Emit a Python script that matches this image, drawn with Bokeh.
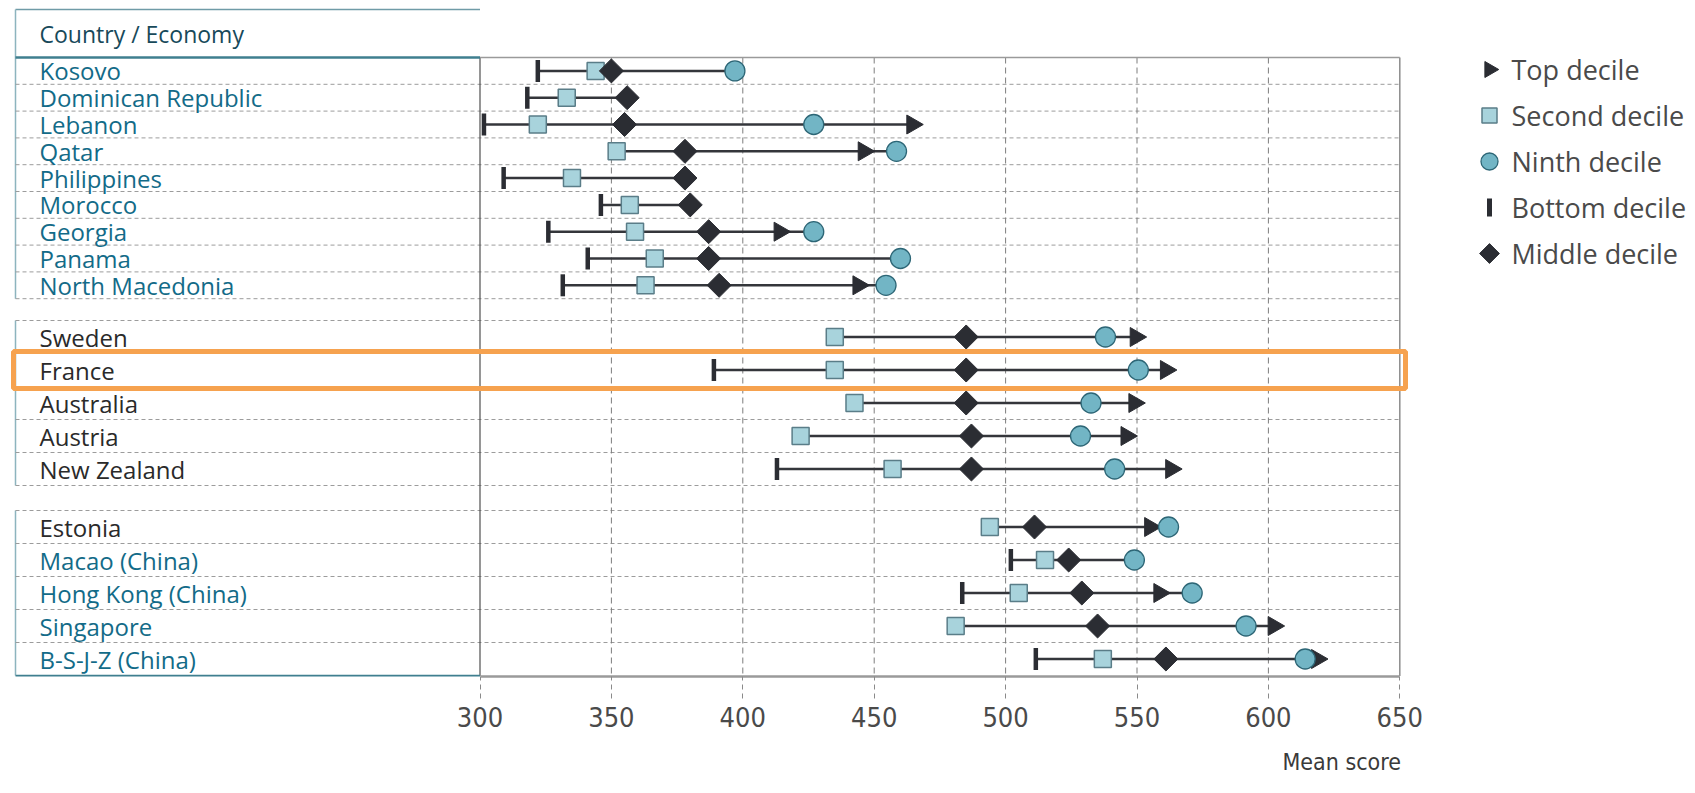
import math
from bokeh.plotting import figure
from bokeh.models import ColumnDataSource, Range1d, FixedTicker, Title
from bokeh.core.properties import value
from bokeh.embed import file_html
from bokeh.resources import INLINE

nan = float("nan")

# ---------------- data ----------------
countries = ["Kosovo", "Dominican Republic", "Lebanon", "Qatar", "Philippines", "Morocco",
             "Georgia", "Panama", "North Macedonia",
             "Sweden", "France", "Australia", "Austria", "New Zealand",
             "Estonia", "Macao (China)", "Hong Kong (China)", "Singapore", "B-S-J-Z (China)"]
group = [0, 0, 0, 0, 0, 0, 0, 0, 0,
         1, 1, 1, 1, 1,
         2, 2, 2, 2, 2]
bottom_decile = [322, 318, 301.5, nan, 309, 346, 326, 341, 331.5,
                 nan, 389, nan, nan, 413,
                 nan, 502, 483.5, nan, 511.5]
second_decile = [344, 333, 322, 352, 335, 357, 359, 366.5, 363,
                 435, 435, 442.5, 422, 457,
                 494, 515, 505, 481, 537]
middle_decile = [350, 356, 355, 378, 378, 380, 387, 387, 391,
                 485, 485, 485, 487, 487,
                 511, 524, 529, 535, 561]
ninth_decile = [397, nan, 427, 458.5, nan, nan, 427, 460, 454.5,
                538, 550.5, 532.5, 528.5, 541.5,
                562, 549, 571, 591.5, 614]
top_decile = [nan, nan, 464.5, 446, nan, nan, 414, nan, 444,
              549.5, 561, 549, 546, 563,
              555, nan, 558.5, 602, 618.5]
tick_values = [300, 350, 400, 450, 500, 550, 600, 650]
legend_labels = ["Top decile", "Second decile", "Ninth decile", "Bottom decile", "Middle decile"]
header_text = "Country / Economy"
x_title = "Mean score"
highlight_country = "France"
dark_label_countries = ["Sweden", "France", "Australia", "Austria", "New Zealand", "Estonia"]

# ---------------- layout helpers ----------------
W, H = 1695, 793
FRAME_H = 676
PX_PER_UNIT = 131.4 / 50.0
X_AT_300 = 479.5          # canvas pixel of score 300


def xv(px):
    return 300 + (px - X_AT_300) / PX_PER_UNIT


group_top = [57.0, 320.0, 510.0]
group_step = [26.8, 33.0, 33.0]
row_index_in_group = []
counts = {}
for g in group:
    row_index_in_group.append(counts.get(g, 0))
    counts[g] = counts.get(g, 0) + 1
row_y = [group_top[g] + group_step[g] * (i + 0.5) for g, i in zip(group, row_index_in_group)]

TEAL = "#136b88"
DARK = "#2a2a2a"
label_colors = [DARK if c in dark_label_countries else TEAL for c in countries]

seg_lo, seg_hi = [], []
for vals in zip(bottom_decile, second_decile, middle_decile, ninth_decile, top_decile):
    present = [v for v in vals if not math.isnan(v)]
    seg_lo.append(min(present))
    seg_hi.append(max(present))

src = ColumnDataSource(dict(country=countries, y=row_y, color=label_colors,
                            bottom=bottom_decile, second=second_decile, middle=middle_decile,
                            ninth=ninth_decile, top=top_decile, lo=seg_lo, hi=seg_hi,
                            lx=[xv(39)] * len(countries)))

p = figure(width=W, height=H, output_backend="svg", toolbar_location=None,
           x_range=Range1d(xv(0), xv(W)), y_range=Range1d(FRAME_H, 0),
           y_axis_location=None,
           min_border_left=0, min_border_top=0, min_border_right=0,
           min_border_bottom=H - FRAME_H)
p.outline_line_color = None
p.xgrid.visible = False
p.ygrid.visible = False
p.background_fill_color = "white"
p.border_fill_color = "white"

# ---------------- table / grid decorations ----------------
x_left = xv(15)
x_right = 650
y_head = 57.0
y_bottom = 675.5
TABLE_TEAL = "#8db4be"

p.segment(x0=[x_left], x1=[300], y0=[9], y1=[9], line_color="#6f9ba7", line_width=1.5)
for g in range(3):
    top = 9 if g == 0 else group_top[g]
    bot = group_top[g] + group_step[g] * counts[g]
    p.segment(x0=[x_left], x1=[x_left], y0=[top], y1=[bot], line_color=TABLE_TEAL, line_width=1.5)

sep_y = []
for g in range(3):
    start = 1 if g == 0 else 0
    for k in range(start, counts[g] + (1 if g < 2 else 0)):
        sep_y.append(group_top[g] + group_step[g] * k)
p.segment(x0=[x_left] * len(sep_y), x1=[x_right] * len(sep_y), y0=sep_y, y1=sep_y,
          line_color="#9c9c9c", line_width=1, line_dash="4 3")

inner_ticks = tick_values[1:-1]
p.segment(x0=inner_ticks, x1=inner_ticks, y0=[y_head] * len(inner_ticks), y1=[y_bottom] * len(inner_ticks),
          line_color="#7d7d7d", line_width=1, line_dash="6 4")
p.segment(x0=[300], x1=[300], y0=[y_head], y1=[y_bottom], line_color="#4f4f4f", line_width=1.2)
p.segment(x0=[650], x1=[650], y0=[y_head], y1=[y_bottom], line_color="#8c8c8c", line_width=1.5)

p.segment(x0=[300], x1=[650], y0=[y_head], y1=[y_head], line_color="#9a9a9a", line_width=1.5)
p.segment(x0=[x_left], x1=[300], y0=[y_head], y1=[y_head], line_color="#3f7f8f", line_width=2.5)
p.segment(x0=[x_left], x1=[300], y0=[y_bottom], y1=[y_bottom], line_color="#3f7f8f", line_width=2.5)

p.text(x=[xv(39)], y=[33], text=[header_text], text_baseline="middle", text_align="left",
       text_font=value("Open Sans"), text_font_size="23px", text_color="#17495a")

p.text(x="lx", y="y", text="country", source=src, text_baseline="middle", text_align="left",
       text_font=value("Open Sans"), text_font_size="24px", text_color="color")

# ---------------- data marks ----------------
DARKM = "#2b2d33"
SQ_FILL, SQ_LINE = "#a8d3dc", "#5a7d88"
CI_FILL, CI_LINE = "#72b5c5", "#2d6676"
p.segment(x0="lo", x1="hi", y0="y", y1="y", source=src, line_color="#34363b", line_width=2.5)
p.scatter(x="bottom", y="y", source=src, marker="dash", size=22, angle=math.pi / 2,
          line_color=DARKM, line_width=4.5)
p.scatter(x="top", y="y", source=src, marker="triangle", size=19, angle=-math.pi / 2,
          fill_color=DARKM, line_color=DARKM)
p.scatter(x="second", y="y", source=src, marker="square", size=17,
          fill_color=SQ_FILL, line_color=SQ_LINE, line_width=1.5)
p.scatter(x="ninth", y="y", source=src, marker="circle", size=20,
          fill_color=CI_FILL, line_color=CI_LINE, line_width=1.3)
p.scatter(x="middle", y="y", source=src, marker="square", size=17, angle=math.pi / 4,
          fill_color=DARKM, line_color=DARKM)

# highlight box
hi_i = countries.index(highlight_country)
hy = row_y[hi_i]
hh = group_step[group[hi_i]] * 0.56
p.quad(left=[xv(13)], right=[xv(1405)], top=[hy - hh], bottom=[hy + hh],
       fill_color=None, line_color="#f6a24f", line_width=5)

# ---------------- legend (drawn as glyphs) ----------------
leg_x = xv(1489)
leg_tx = xv(1511)
leg_y = [69 + 46 * i for i in range(len(legend_labels))]
p.scatter(x=[leg_x], y=[leg_y[0]], marker="triangle", size=16, angle=-math.pi / 2,
          fill_color=DARKM, line_color=DARKM)
p.scatter(x=[leg_x], y=[leg_y[1]], marker="square", size=15,
          fill_color=SQ_FILL, line_color=SQ_LINE, line_width=1.5)
p.scatter(x=[leg_x], y=[leg_y[2]], marker="circle", size=17,
          fill_color=CI_FILL, line_color=CI_LINE, line_width=1.3)
p.scatter(x=[leg_x], y=[leg_y[3]], marker="dash", size=18, angle=math.pi / 2,
          line_color=DARKM, line_width=5)
p.scatter(x=[leg_x], y=[leg_y[4]], marker="square", size=14, angle=math.pi / 4,
          fill_color=DARKM, line_color=DARKM)
p.text(x=[leg_tx] * len(legend_labels), y=leg_y, text=legend_labels,
       text_baseline="middle", text_align="left",
       text_font=value("Open Sans"), text_font_size="27px", text_color="#4a4a4a")

# ---------------- axis ----------------
ax = p.xaxis[0]
ax.ticker = FixedTicker(ticks=tick_values)
ax.bounds = (300, 650)
ax.axis_line_color = "#9a9a9a"
ax.axis_line_width = 2.5
ax.major_tick_out = 22
ax.major_tick_in = 0
ax.major_tick_line_color = "#8a8a8a"
ax.major_tick_line_dash = "5 4"
ax.minor_tick_line_color = None
ax.major_label_text_font = "DejaVu Sans Condensed"
ax.major_label_text_font_size = "27px"
ax.major_label_text_color = "#4a4a4a"
ax.major_label_standoff = 8

p.add_layout(Title(text=x_title, align="left", offset=1282, standoff=35,
                   text_font="DejaVu Sans Condensed", text_font_style="normal",
                   text_font_size="23px", text_color="#3a3a3a"), "below")

open("out.html", "w").write(file_html(p, INLINE))
